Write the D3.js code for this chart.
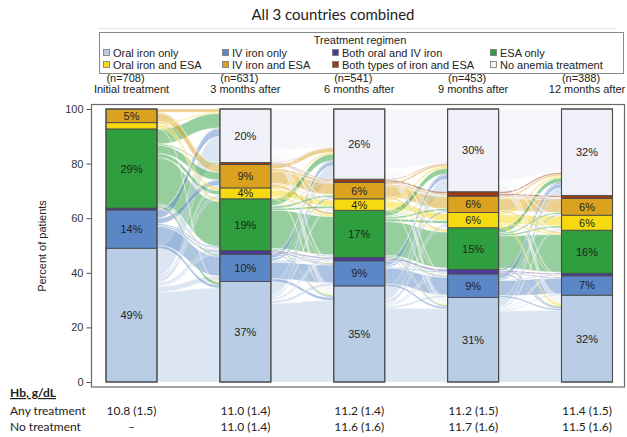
<!DOCTYPE html>
<html>
<head>
<meta charset="utf-8">
<script src="https://cdn.jsdelivr.net/npm/d3@7"></script>
<style>
  html, body { margin: 0; padding: 0; background: #fff; }
  svg { display: block; }
</style>
</head>
<body>
<svg id="chart" width="627" height="437"></svg>
<script>
// ---------- DATA ----------
const categories = ["Oral iron only", "IV iron only", "Both oral and IV iron", "ESA only",
  "Oral iron and ESA", "IV iron and ESA", "Both types of iron and ESA", "No anemia treatment"];
const colors = ["#b9cde6", "#5b87c7", "#4b3a9c", "#2e9e3e", "#f7d90f", "#daa21f", "#9c3b1a", "#f0f0f8"];
const timepoints = ["Initial treatment", "3 months after", "6 months after", "9 months after", "12 months after"];
const nLabels = ["(n=708)", "(n=631)", "(n=541)", "(n=453)", "(n=388)"];

// percent of patients per category (order = categories), one array per time point
const pctInitial = [49, 14, 0.7, 29, 2.3, 5, 0, 0];
const pct3m = [36.8, 10, 1.3, 19, 4, 8.6, 0.7, 19.6];
const pct6m = [35.2, 9.2, 1.2, 17.3, 4.2, 6, 1.2, 25.7];
const pct9m = [31, 8.6, 1.6, 15.3, 5.6, 6, 1.6, 30.3];
const pct12m = [31.8, 7.1, 0.9, 15.8, 5.5, 6.2, 1.0, 31.7];

// transitions (rows: source category, columns: target category), estimated
const flowInitTo3m = [
  [33, 2, 0.5, 1, 1.5, 1, 0, 10],
  [1, 7, 0.5, 0.5, 0, 2, 0, 3],
  [0, 0.3, 0.2, 0, 0, 0, 0, 0.2],
  [1, 0.5, 0, 17, 1.5, 3, 0.5, 5.5],
  [0.3, 0, 0, 0.5, 1, 0, 0, 0.5],
  [0, 0, 0, 0.5, 0, 3, 0.3, 1.2],
  [0, 0, 0, 0, 0, 0, 0, 0],
  [0, 0, 0, 0, 0, 0, 0, 0]
];
const flow3mTo6m = [
  [29, 1, 0.3, 0.7, 0.8, 0, 0, 5.2],
  [1, 6, 0.3, 0.3, 0, 0.8, 0, 1.6],
  [0.3, 0.3, 0.4, 0, 0, 0, 0, 0.3],
  [0.5, 0.3, 0, 14, 0.7, 0.8, 0.2, 2.5],
  [0.4, 0, 0, 0.6, 2.2, 0.2, 0, 0.6],
  [0, 0.3, 0, 1, 0.3, 4.5, 0.8, 1.6],
  [0, 0, 0, 0, 0, 0.2, 0.3, 0.2],
  [3, 0.5, 0, 0.7, 0.3, 0.3, 0, 14.7]
];
const flow6mTo9m = [
  [27, 0.8, 0.4, 0.5, 1.5, 0, 0, 5],
  [0.7, 5.8, 0.3, 0, 0, 0.6, 0, 1.8],
  [0.2, 0.2, 0.5, 0, 0, 0, 0, 0.3],
  [0.5, 0.3, 0, 12.5, 1, 0.7, 0.3, 2.2],
  [0.3, 0, 0, 0.5, 2.6, 0, 0, 0.8],
  [0, 0.2, 0, 0.5, 0, 4, 0.5, 0.8],
  [0, 0, 0, 0, 0, 0.2, 0.7, 0.3],
  [2.5, 0.4, 0, 0.5, 0.3, 0.2, 0, 21.6]
];
const flow9mTo12m = [
  [26, 0.4, 0.2, 0.4, 0.8, 0, 0, 3.2],
  [0.6, 5.4, 0.2, 0, 0, 0.5, 0, 1.7],
  [0.4, 0.3, 0.4, 0, 0, 0, 0, 0.5],
  [0.5, 0, 0, 12, 0.6, 0.5, 0, 1.9],
  [1, 0, 0, 0.5, 3.3, 0, 0, 0.8],
  [0, 0.2, 0, 0.4, 0, 4.4, 0.3, 0.7],
  [0, 0, 0, 0, 0, 0.3, 0.6, 0.7],
  [3, 0.3, 0, 0.5, 0.3, 0.2, 0, 26]
];

const yTicks = [0, 20, 40, 60, 80, 100];
const hbRowLabels = ["Any treatment", "No treatment"];
const hbAny = ["10.8 (1.5)", "11.0 (1.4)", "11.2 (1.4)", "11.2 (1.5)", "11.4 (1.5)"];
const hbNone = ["\u2013", "11.0 (1.4)", "11.6 (1.6)", "11.7 (1.6)", "11.5 (1.6)"];

// ---------- DRAW ----------
const columns = [pctInitial, pct3m, pct6m, pct9m, pct12m];
const transitions = [flowInitTo3m, flow3mTo6m, flow6mTo9m, flow9mTo12m];

const svg = d3.select("#chart");
const sansA = "'Liberation Sans', Arial, sans-serif";
const sansC = "Lato, 'Open Sans', sans-serif";

const x = d3.scalePoint().domain(timepoints).range([131.5, 587]);
const y = d3.scaleLinear().domain([0, 100]).range([382, 109]);
const barW = 51;

// title
svg.append("text").attr("x", 333).attr("y", 20).attr("text-anchor", "middle")
  .attr("font-family", sansC).attr("font-size", 15).attr("fill", "#222")
  .text("All 3 countries combined");
svg.append("line").attr("x1", 98).attr("x2", 616).attr("y1", 28.5).attr("y2", 28.5)
  .attr("stroke", "#e4e4e4").attr("stroke-width", 1);

// legend
const leg = svg.append("g");
leg.append("rect").attr("x", 99.5).attr("y", 32.5).attr("width", 524).attr("height", 41)
  .attr("fill", "#fff").attr("stroke", "#8a8a8a");
leg.append("text").attr("x", 360).attr("y", 44).attr("text-anchor", "middle")
  .attr("font-family", sansA).attr("font-size", 11).attr("fill", "#222").text("Treatment regimen");
const legCols = [103, 222, 332, 490];
categories.forEach((c, i) => {
  const col = i % 4, row = Math.floor(i / 4);
  const lx = legCols[col], ly = 53 + row * 12;
  leg.append("rect").attr("x", lx + 0.5).attr("y", ly - 3.5).attr("width", 6).attr("height", 6)
    .attr("fill", colors[i]).attr("stroke", "#777").attr("stroke-width", 0.8);
  leg.append("text").attr("x", lx + 10).attr("y", ly + 4)
    .attr("font-family", sansA).attr("font-size", 11).attr("fill", "#222").text(c);
});

// column headers
timepoints.forEach((t, k) => {
  svg.append("text").attr("x", x(t) - 6).attr("y", 82).attr("text-anchor", "middle")
    .attr("font-family", sansA).attr("font-size", 11).attr("fill", "#222").text(nLabels[k]);
  svg.append("text").attr("x", x(t)).attr("y", 93).attr("text-anchor", "middle")
    .attr("font-family", sansA).attr("font-size", 11).attr("fill", "#222").text(t);
});

// plot frame
svg.append("rect").attr("x", 91.5).attr("y", 104.5).attr("width", 533).attr("height", 282.5)
  .attr("fill", "#fff").attr("stroke", "#6a6a6a").attr("stroke-width", 1.2);

// flows
const flowG = svg.append("g");
transitions.forEach((F, t) => {
  const src = columns[t], tgt = columns[t + 1];
  const n = categories.length;
  const rowSum = F.map(r => d3.sum(r));
  const colSum = d3.range(n).map(j => d3.sum(F, r => r[j]));
  const srcBase = d3.range(n).map(i => d3.sum(src.slice(0, i)));
  const tgtBase = d3.range(n).map(j => d3.sum(tgt.slice(0, j)));
  // source offsets: outflows stacked from bottom by target index
  const srcOff = srcBase.slice();
  const tgtOff = tgtBase.slice();
  const ribbons = [];
  for (let i = 0; i < n; i++) {
    for (let j = 0; j < n; j++) {
      const v = F[i][j];
      if (!v) continue;
      const ws = v * src[i] / rowSum[i];
      ribbons.push({ i, j, s0: srcOff[i], s1: srcOff[i] + ws });
      srcOff[i] += ws;
    }
  }
  for (let j = 0; j < n; j++) {
    for (let i = 0; i < n; i++) {
      const v = F[i][j];
      if (!v) continue;
      const wt = v * tgt[j] / colSum[j];
      const r = ribbons.find(d => d.i === i && d.j === j);
      r.t0 = tgtOff[j]; r.t1 = tgtOff[j] + wt;
      tgtOff[j] += wt;
    }
  }
  const x0 = x(timepoints[t]) + barW / 2, x1 = x(timepoints[t + 1]) - barW / 2;
  const xm = (x0 + x1) / 2;
  ribbons.sort((a, b) => (b.s1 - b.s0) - (a.s1 - a.s0));
  ribbons.forEach(r => {
    const p = d3.path();
    p.moveTo(x0, y(r.s1));
    p.bezierCurveTo(xm, y(r.s1), xm, y(r.t1), x1, y(r.t1));
    p.lineTo(x1, y(r.t0));
    p.bezierCurveTo(xm, y(r.t0), xm, y(r.s0), x0, y(r.s0));
    p.closePath();
    flowG.append("path").attr("d", p.toString())
      .attr("fill", colors[r.i]).attr("fill-opacity", r.i === 7 ? 0.6 : 0.5)
      .attr("stroke", "#fff").attr("stroke-opacity", 0.6).attr("stroke-width", 0.6);
  });
});

// bars
const barG = svg.append("g");
columns.forEach((vals, k) => {
  const cx = x(timepoints[k]);
  let base = 0;
  vals.forEach((v, i) => {
    if (v > 0) {
      barG.append("rect").attr("x", cx - barW / 2).attr("y", y(base + v))
        .attr("width", barW).attr("height", y(base) - y(base + v))
        .attr("fill", colors[i]).attr("stroke", "#4a4a4a").attr("stroke-width", 0.9);
      if (v >= 3.5) {
        barG.append("text").attr("x", cx).attr("y", y(base + v / 2) + 4)
          .attr("text-anchor", "middle").attr("font-family", sansA).attr("font-size", 11)
          .attr("fill", "#222").text(Math.round(v) + "%");
      }
    }
    base += v;
  });
  barG.append("rect").attr("x", cx - barW / 2).attr("y", y(100)).attr("width", barW)
    .attr("height", y(0) - y(100)).attr("fill", "none").attr("stroke", "#4a4a4a").attr("stroke-width", 1.1);
});

// y axis
const yAxis = d3.axisLeft(y).tickValues(yTicks).tickSize(5).tickPadding(3);
const ya = svg.append("g").attr("transform", "translate(91.5,0)").call(yAxis);
ya.select(".domain").remove();
ya.selectAll("line").attr("stroke", "#555");
ya.selectAll("text").attr("font-family", sansA).attr("font-size", 11).attr("fill", "#333");
svg.append("text").attr("transform", "translate(46,246) rotate(-90)").attr("text-anchor", "middle")
  .attr("font-family", sansA).attr("font-size", 11).attr("fill", "#222").text("Percent of patients");

// Hb table
svg.append("text").attr("x", 10).attr("y", 397).attr("font-family", sansC).attr("font-size", 12)
  .attr("font-weight", "bold").attr("text-decoration", "underline").attr("fill", "#222").text("Hb, g/dL");
[hbAny, hbNone].forEach((row, r) => {
  const ty = 415 + r * 16;
  svg.append("text").attr("x", 10).attr("y", ty).attr("font-family", sansC).attr("font-size", 12)
    .attr("fill", "#222").text(hbRowLabels[r]);
  row.forEach((v, k) => {
    svg.append("text").attr("x", x(timepoints[k])).attr("y", ty).attr("text-anchor", "middle")
      .attr("font-family", sansC).attr("font-size", 12).attr("fill", "#222").text(v);
  });
});
</script>
</body>
</html>
